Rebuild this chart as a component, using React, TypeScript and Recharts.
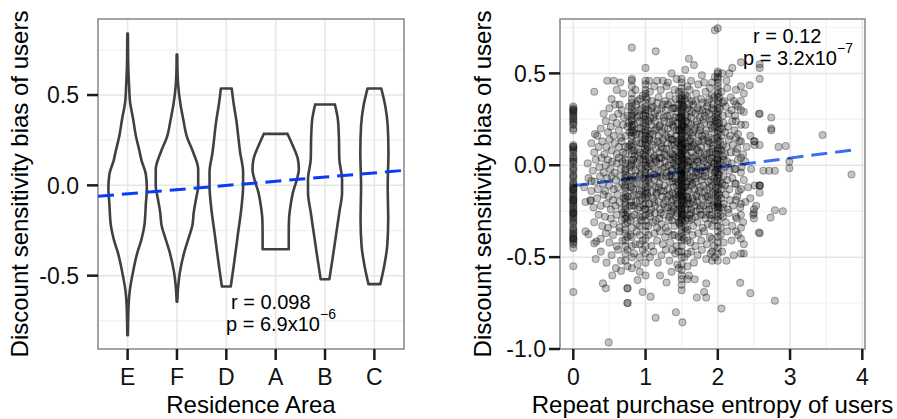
import React from 'react';
import {
  ComposedChart, Line, Scatter, XAxis, YAxis, CartesianGrid, ReferenceArea,
} from 'recharts';

const FONT = '"Liberation Sans", Arial, Helvetica, sans-serif';

// ---------- Left panel: violins ----------
const areas = ['E', 'F', 'D', 'A', 'B', 'C'];
// [value, half-width in category units], top to bottom
const violinE = [[0.84,0.006],[0.70,0.01],[0.55,0.03],[0.46,0.05],[0.37,0.11],[0.27,0.17],[0.19,0.24],[0.14,0.28],[0.06,0.37],[-0.02,0.39],[-0.10,0.37],[-0.22,0.34],[-0.30,0.28],[-0.37,0.2],[-0.50,0.095],[-0.58,0.045],[-0.66,0.02],[-0.83,0.006]];
const violinF = [[0.724,0.006],[0.62,0.012],[0.549,0.026],[0.45,0.07],[0.365,0.128],[0.273,0.197],[0.182,0.33],[0.088,0.43],[-0.004,0.43],[-0.077,0.385],[-0.149,0.34],[-0.225,0.31],[-0.28,0.25],[-0.37,0.148],[-0.48,0.06],[-0.555,0.026],[-0.644,0.006]];
const violinD = [[0.536,0.11],[0.45,0.15],[0.365,0.2],[0.182,0.28],[0.072,0.34],[-0.004,0.34],[-0.114,0.31],[-0.28,0.23],[-0.445,0.15],[-0.56,0.09]];
const violinA = [[0.285,0.24],[0.218,0.35],[0.144,0.45],[0.088,0.47],[0.033,0.43],[-0.039,0.35],[-0.114,0.3],[-0.188,0.27],[-0.26,0.265],[-0.354,0.265]];
const violinB = [[0.448,0.2],[0.365,0.26],[0.273,0.28],[0.144,0.29],[0.033,0.345],[-0.039,0.345],[-0.149,0.29],[-0.28,0.22],[-0.41,0.15],[-0.52,0.088]];
const violinC = [[0.536,0.14],[0.44,0.22],[0.33,0.27],[0.182,0.285],[-0.004,0.27],[-0.188,0.28],[-0.335,0.26],[-0.445,0.2],[-0.547,0.12]];
const violins = [violinE, violinF, violinD, violinA, violinB, violinC];
const leftFit = [{ x: -0.6, y: -0.061 }, { x: 5.6, y: 0.083 }];
const leftYTicks = [-0.5, 0, 0.5];
const leftYMinor = [-0.75, -0.25, 0.25, 0.75];
const leftXTicks = [0, 1, 2, 3, 4, 5];
const leftXDomain = [-0.6, 5.6];
const leftYDomain = [-0.906, 0.921];

// ---------- Right panel: scatter ----------
const zeroCol = [0.32,0.31,0.3,0.3,0.29,0.28,0.27,0.26,0.25,0.24,0.23,0.22,0.2,0.19,0.11,0.1,0.1,0.09,0.08,0.07,0.05,0.04,0.03,0.02,0.01,-0.01,-0.02,-0.03,-0.05,-0.06,-0.07,-0.09,-0.1,-0.11,-0.12,-0.13,-0.13,-0.14,-0.15,-0.16,-0.17,-0.18,-0.19,-0.19,-0.2,-0.21,-0.22,-0.23,-0.24,-0.25,-0.26,-0.26,-0.27,-0.28,-0.29,-0.3,-0.31,-0.32,-0.34,-0.35,-0.36,-0.37,-0.38,-0.39,-0.4,-0.4,-0.41,-0.42,-0.43,-0.45,-0.55,-0.69];
const stripeX = [0.72, 0.75, 0.81, 0.92, 1.0, 1.37, 1.46, 1.5, 1.58, 1.92, 2.0, 2.25, 2.32, 2.5, 2.58];
const stripeY = [
  [0.16,0.1,0.06,0.03,0.01,-0.02,-0.03,-0.05,-0.07,-0.09,-0.11,-0.12,-0.14,-0.16,-0.18,-0.2,-0.22,-0.24,-0.27,-0.29,-0.32,-0.35,-0.37,-0.41,-0.44,-0.48,-0.52],
  [0.27,0.21,-0.06,-0.17,-0.26,-0.31,-0.39,-0.46,-0.55,-0.67,-0.75,-0.75],
  [0.64,0.47,0.46,0.43,0.39,0.36,0.34,0.32,0.3,0.28,0.27,0.25,0.24,0.22,0.21,0.19,0.18,0.16,0.14,0.12,0.1,0.08,0.06,0.03,0.01,-0.03,-0.07,-0.12,-0.17,-0.22,-0.28,-0.34,-0.39,-0.44,-0.5,-0.56],
  [0.36,0.3,0.24,0.17,0.12,0.07,0.03,-0.01,-0.06,-0.1,-0.14,-0.19,-0.23,-0.28,-0.33,-0.38,-0.43,-0.5,-0.58],
  [0.53,0.46,0.44,0.41,0.39,0.37,0.34,0.32,0.3,0.28,0.27,0.25,0.23,0.21,0.19,0.18,0.16,0.14,0.12,0.11,0.09,0.07,0.05,0.03,0.02,0.0,-0.02,-0.04,-0.06,-0.08,-0.1,-0.12,-0.14,-0.16,-0.18,-0.21,-0.24,-0.27,-0.3,-0.33,-0.36,-0.4,-0.44,-0.48,-0.53,-0.6],
  [0.31,0.22,0.14,0.06,-0.02,-0.09,-0.15,-0.22,-0.3,-0.38,-0.46],
  [0.4,0.33,0.26,0.19,0.12,0.05,-0.03,-0.1,-0.17,-0.24,-0.31,-0.39,-0.47,-0.56],
  [0.47,0.45,0.42,0.4,0.38,0.36,0.35,0.34,0.33,0.31,0.3,0.29,0.28,0.27,0.26,0.25,0.24,0.23,0.22,0.21,0.2,0.19,0.18,0.17,0.16,0.15,0.14,0.13,0.12,0.11,0.1,0.09,0.08,0.07,0.06,0.05,0.04,0.03,0.02,0.01,0.0,-0.01,-0.02,-0.03,-0.04,-0.05,-0.06,-0.07,-0.08,-0.09,-0.1,-0.11,-0.12,-0.13,-0.14,-0.15,-0.16,-0.17,-0.18,-0.19,-0.2,-0.21,-0.22,-0.23,-0.24,-0.25,-0.26,-0.27,-0.28,-0.29,-0.31,-0.33,-0.35,-0.37,-0.39,-0.41,-0.44,-0.47,-0.5,-0.54,-0.57,-0.6,-0.62,-0.65,-0.68],
  [0.43,0.37,0.31,0.26,0.2,0.15,0.1,0.05,0.0,-0.05,-0.09,-0.14,-0.19,-0.24,-0.29,-0.35,-0.41,-0.48,-0.55,-0.62],
  [0.45,0.38,0.31,0.25,0.2,0.14,0.09,0.04,-0.01,-0.06,-0.11,-0.16,-0.22,-0.27,-0.33,-0.4,-0.47,-0.52],
  [0.51,0.5,0.48,0.47,0.45,0.43,0.41,0.39,0.37,0.35,0.33,0.31,0.29,0.27,0.25,0.23,0.21,0.19,0.17,0.15,0.13,0.11,0.09,0.08,0.06,0.04,0.03,0.01,0.0,-0.01,-0.02,-0.04,-0.05,-0.07,-0.09,-0.11,-0.13,-0.15,-0.17,-0.19,-0.21,-0.22,-0.23,-0.24,-0.26,-0.28,-0.3,-0.33,-0.36,-0.39,-0.42,-0.45,-0.48,-0.52],
  [0.41,0.33,0.24,0.15,0.07,-0.02,-0.1,-0.19,-0.28,-0.36],
  [0.56,0.43,0.35,0.3,0.22,0.13,0.04,-0.04,-0.13,-0.21,-0.27,-0.34,-0.4,-0.48],
  [0.13,-0.24,-0.26,-0.29],
  [0.55,0.53,0.47,0.28,0.11,-0.11,-0.11,-0.15,-0.37],
];
const cloud = [
  [0.53,0.36],[0.6,0.41],[0.64,0.33],[0.69,0.39],[0.86,0.41],[0.89,0.35],[0.96,0.38],[1.06,0.4],[1.09,0.35],[1.12,0.43],[1.18,0.37],[1.21,0.41],[1.27,0.35],[1.29,0.43],[1.33,0.38],[1.4,0.41],[1.42,0.36],[1.55,0.38],[1.61,0.41],[1.64,0.35],[1.7,0.39],[1.73,0.44],[1.77,0.36],[1.83,0.4],[1.86,0.34],[1.89,0.42],[1.95,0.37],[2.05,0.4],[2.09,0.35],[2.13,0.42],[2.18,0.37],[2.22,0.35],[2.36,0.39],
  [0.29,0.4],[0.47,0.46],[0.56,0.46],[0.65,0.45],[1.05,0.46],[1.14,0.62],[1.16,0.46],[1.24,0.46],[1.31,0.45],[1.43,0.47],[1.55,0.52],[1.6,0.58],[1.63,0.46],[1.67,0.545],[1.81,0.45],[1.96,0.48],[1.96,0.735],[2.0,0.745],[2.06,0.5],[2.12,0.46],[2.16,0.5],[2.2,0.53],[2.44,0.435],[1.78,0.49],[1.36,0.5],
  [0.42,0.28],[0.5,0.31],[0.55,0.26],[0.58,0.33],[0.62,0.28],[0.67,0.3],[0.7,0.26],[0.77,0.32],[0.85,0.29],[0.88,0.26],[0.95,0.31],[0.97,0.27],[1.04,0.3],[1.07,0.26],[1.1,0.32],[1.13,0.28],[1.16,0.34],[1.19,0.27],[1.22,0.31],[1.25,0.26],[1.28,0.3],[1.31,0.33],[1.34,0.27],[1.39,0.31],[1.41,0.26],[1.44,0.29],[1.53,0.32],[1.55,0.27],[1.61,0.3],[1.63,0.26],[1.66,0.33],[1.69,0.28],[1.72,0.31],[1.75,0.26],[1.79,0.3],[1.82,0.27],[1.85,0.32],[1.88,0.28],[1.94,0.3],[1.97,0.26],[2.03,0.31],[2.07,0.27],[2.11,0.32],[2.15,0.28],[2.19,0.3],[2.24,0.27],[2.28,0.32],[2.36,0.29],[2.57,0.28],[2.74,0.26],
  [0.3,0.17],[0.33,0.16],[0.38,0.2],[0.45,0.24],[0.48,0.18],[0.52,0.21],[0.56,0.16],[0.6,0.23],[0.63,0.19],[0.66,0.15],[0.69,0.22],[0.78,0.18],[0.84,0.22],[0.87,0.17],[0.9,0.2],[0.95,0.16],[0.97,0.23],[1.03,0.19],[1.05,0.15],[1.08,0.22],[1.1,0.17],[1.13,0.24],[1.15,0.2],[1.18,0.16],[1.2,0.22],[1.23,0.18],[1.26,0.24],[1.28,0.16],[1.31,0.2],[1.33,0.23],[1.35,0.17],[1.39,0.21],[1.42,0.16],[1.44,0.23],[1.47,0.19],[1.53,0.21],[1.55,0.16],[1.56,0.24],[1.61,0.18],[1.63,0.22],[1.65,0.16],[1.68,0.2],[1.71,0.24],[1.73,0.17],[1.76,0.21],[1.78,0.16],[1.81,0.23],[1.84,0.19],[1.87,0.15],[1.9,0.22],[1.95,0.18],[1.97,0.24],[2.03,0.2],[2.05,0.16],[2.08,0.23],[2.1,0.18],[2.14,0.21],[2.17,0.16],[2.2,0.24],[2.23,0.19],[2.28,0.17],[2.38,0.22],[2.45,0.16],[2.74,0.2],[2.74,0.19],[3.45,0.165],
  [0.25,0.12],[0.29,0.07],[0.35,0.1],[0.4,0.13],[0.43,0.06],[0.46,0.1],[0.5,0.14],[0.53,0.08],[0.57,0.12],[0.6,0.06],[0.63,0.1],[0.67,0.13],[0.69,0.07],[0.78,0.11],[0.84,0.08],[0.87,0.13],[0.9,0.09],[0.95,0.12],[0.97,0.06],[1.03,0.1],[1.05,0.14],[1.07,0.07],[1.1,0.11],[1.12,0.05],[1.14,0.09],[1.17,0.13],[1.19,0.07],[1.22,0.1],[1.24,0.14],[1.26,0.06],[1.29,0.09],[1.31,0.12],[1.34,0.07],[1.36,0.11],[1.39,0.05],[1.41,0.09],[1.43,0.13],[1.45,0.07],[1.48,0.1],[1.53,0.08],[1.55,0.12],[1.56,0.06],[1.6,0.1],[1.62,0.14],[1.64,0.07],[1.66,0.11],[1.69,0.05],[1.71,0.09],[1.73,0.13],[1.75,0.07],[1.77,0.1],[1.8,0.14],[1.82,0.06],[1.85,0.1],[1.87,0.13],[1.89,0.07],[1.94,0.11],[1.97,0.06],[2.03,0.13],[2.05,0.08],[2.07,0.11],[2.1,0.06],[2.12,0.1],[2.15,0.14],[2.18,0.07],[2.21,0.11],[2.27,0.09],[2.3,0.13],[2.35,0.06],[2.4,0.1],[2.51,0.13],[2.51,0.11],[2.84,0.1],[2.94,0.105],
  [0.2,0.01],[0.27,-0.03],[0.31,0.03],[0.36,-0.01],[0.39,0.04],[0.42,-0.04],[0.45,0.0],[0.48,0.03],[0.51,-0.02],[0.54,0.02],[0.57,-0.04],[0.6,0.01],[0.63,0.04],[0.66,-0.02],[0.68,0.02],[0.78,-0.01],[0.83,0.03],[0.86,-0.03],[0.88,0.01],[0.95,-0.02],[0.97,0.03],[1.03,-0.01],[1.05,0.03],[1.07,-0.04],[1.09,0.0],[1.11,0.04],[1.13,-0.02],[1.15,0.02],[1.18,-0.03],[1.2,0.01],[1.22,0.04],[1.24,-0.02],[1.27,0.02],[1.29,-0.04],[1.32,0.0],[1.34,0.03],[1.36,-0.03],[1.39,0.01],[1.41,0.04],[1.43,-0.01],[1.45,0.02],[1.48,-0.03],[1.53,0.01],[1.54,-0.04],[1.56,0.03],[1.6,-0.01],[1.62,0.02],[1.64,-0.03],[1.66,0.04],[1.68,0.0],[1.7,-0.04],[1.72,0.02],[1.74,-0.02],[1.77,0.03],[1.79,-0.01],[1.81,0.02],[1.83,-0.04],[1.86,0.0],[1.88,0.03],[1.9,-0.02],[1.95,0.01],[1.97,-0.03],[2.03,0.02],[2.05,-0.02],[2.08,0.03],[2.1,-0.01],[2.13,0.02],[2.16,-0.03],[2.19,0.01],[2.23,-0.02],[2.28,0.03],[2.33,-0.01],[2.38,0.02],[2.46,-0.02],[2.63,-0.03],[2.71,-0.03],[2.79,-0.03],[2.99,0.02],[2.99,-0.016],[3.85,-0.05],
  [0.15,-0.12],[0.21,-0.07],[0.25,-0.14],[0.3,-0.09],[0.34,-0.13],[0.37,-0.06],[0.41,-0.1],[0.44,-0.14],[0.47,-0.07],[0.5,-0.11],[0.53,-0.06],[0.56,-0.13],[0.59,-0.08],[0.62,-0.12],[0.65,-0.06],[0.68,-0.1],[0.78,-0.08],[0.83,-0.13],[0.86,-0.06],[0.88,-0.1],[0.95,-0.14],[0.97,-0.07],[1.03,-0.12],[1.05,-0.06],[1.07,-0.1],[1.09,-0.14],[1.12,-0.08],[1.14,-0.12],[1.16,-0.06],[1.19,-0.1],[1.21,-0.14],[1.23,-0.07],[1.26,-0.11],[1.28,-0.06],[1.31,-0.13],[1.33,-0.09],[1.35,-0.05],[1.39,-0.12],[1.41,-0.07],[1.43,-0.11],[1.45,-0.14],[1.48,-0.08],[1.53,-0.12],[1.54,-0.06],[1.56,-0.1],[1.6,-0.14],[1.62,-0.07],[1.64,-0.11],[1.66,-0.06],[1.68,-0.13],[1.7,-0.09],[1.73,-0.05],[1.75,-0.12],[1.77,-0.08],[1.8,-0.11],[1.82,-0.06],[1.85,-0.13],[1.87,-0.09],[1.89,-0.12],[1.95,-0.07],[1.97,-0.12],[2.03,-0.09],[2.05,-0.13],[2.08,-0.06],[2.1,-0.11],[2.13,-0.08],[2.16,-0.13],[2.2,-0.07],[2.24,-0.1],[2.29,-0.14],[2.36,-0.08],[2.42,-0.12],[2.51,-0.11],[2.58,-0.11],
  [0.17,-0.2],[0.24,-0.19],[0.28,-0.23],[0.33,-0.18],[0.38,-0.22],[0.42,-0.16],[0.46,-0.21],[0.49,-0.17],[0.52,-0.24],[0.55,-0.19],[0.58,-0.22],[0.61,-0.16],[0.64,-0.2],[0.67,-0.24],[0.7,-0.18],[0.78,-0.22],[0.84,-0.16],[0.87,-0.2],[0.89,-0.24],[0.95,-0.18],[0.97,-0.22],[1.03,-0.17],[1.05,-0.21],[1.08,-0.24],[1.1,-0.18],[1.13,-0.22],[1.15,-0.16],[1.18,-0.2],[1.2,-0.24],[1.23,-0.17],[1.25,-0.21],[1.28,-0.19],[1.31,-0.23],[1.33,-0.16],[1.36,-0.2],[1.39,-0.24],[1.42,-0.18],[1.44,-0.21],[1.47,-0.16],[1.53,-0.19],[1.55,-0.23],[1.57,-0.17],[1.61,-0.21],[1.63,-0.24],[1.65,-0.18],[1.68,-0.22],[1.7,-0.16],[1.72,-0.2],[1.75,-0.24],[1.78,-0.18],[1.8,-0.22],[1.83,-0.17],[1.86,-0.21],[1.88,-0.24],[1.95,-0.2],[1.97,-0.16],[2.03,-0.23],[2.05,-0.18],[2.08,-0.21],[2.11,-0.16],[2.14,-0.24],[2.17,-0.19],[2.21,-0.22],[2.27,-0.17],[2.31,-0.23],[2.38,-0.2],[2.45,-0.18],[2.53,-0.22],
  [0.29,-0.31],[0.35,-0.27],[0.4,-0.33],[0.44,-0.28],[0.48,-0.34],[0.52,-0.29],[0.56,-0.32],[0.6,-0.27],[0.64,-0.34],[0.67,-0.3],[0.69,-0.26],[0.79,-0.3],[0.85,-0.27],[0.88,-0.32],[0.96,-0.28],[1.04,-0.33],[1.06,-0.28],[1.1,-0.31],[1.13,-0.26],[1.16,-0.34],[1.19,-0.29],[1.22,-0.32],[1.25,-0.27],[1.28,-0.34],[1.32,-0.3],[1.35,-0.26],[1.4,-0.33],[1.43,-0.28],[1.47,-0.32],[1.53,-0.27],[1.55,-0.34],[1.6,-0.3],[1.63,-0.26],[1.66,-0.33],[1.69,-0.28],[1.72,-0.31],[1.76,-0.27],[1.79,-0.34],[1.83,-0.29],[1.86,-0.32],[1.89,-0.27],[1.96,-0.3],[2.04,-0.34],[2.07,-0.28],[2.11,-0.31],[2.15,-0.26],[2.2,-0.33],[2.26,-0.29],[2.35,-0.31],[2.49,-0.27],[2.79,-0.245],[2.9,-0.25],[2.73,-0.285],
  [0.17,-0.36],[0.21,-0.375],[0.29,-0.425],[0.32,-0.415],[0.38,-0.4],[0.45,-0.37],[0.5,-0.42],[0.55,-0.38],[0.6,-0.44],[0.64,-0.36],[0.68,-0.41],[0.79,-0.38],[0.86,-0.43],[0.88,-0.36],[0.96,-0.41],[1.04,-0.38],[1.08,-0.44],[1.12,-0.37],[1.16,-0.41],[1.2,-0.36],[1.24,-0.43],[1.27,-0.39],[1.31,-0.36],[1.34,-0.42],[1.4,-0.38],[1.43,-0.44],[1.53,-0.4],[1.56,-0.36],[1.62,-0.42],[1.65,-0.38],[1.69,-0.44],[1.73,-0.37],[1.77,-0.41],[1.81,-0.36],[1.85,-0.43],[1.89,-0.39],[1.95,-0.44],[2.04,-0.38],[2.08,-0.42],[2.13,-0.36],[2.19,-0.41],[2.28,-0.38],[2.36,-0.43],
  [0.31,-0.51],[0.38,-0.47],[0.46,-0.53],[0.53,-0.49],[0.59,-0.56],[0.62,-0.46],[0.66,-0.52],[0.84,-0.48],[0.89,-0.54],[0.96,-0.46],[1.06,-0.5],[1.11,-0.47],[1.17,-0.53],[1.22,-0.49],[1.28,-0.46],[1.33,-0.52],[1.41,-0.48],[1.44,-0.54],[1.54,-0.5],[1.63,-0.47],[1.67,-0.53],[1.72,-0.49],[1.78,-0.46],[1.84,-0.51],[1.9,-0.48],[1.96,-0.5],[2.06,-0.47],[2.12,-0.52],[2.22,-0.49],[2.36,-0.48],
  [0.54,-0.6],[0.66,-0.575],[0.41,-0.643],[0.45,-0.67],[0.75,-0.67],[0.89,-0.625],[0.96,-0.69],[1.2,-0.6],[1.29,-0.638],[1.07,-0.715],[1.14,-0.83],[1.42,-0.8],[1.51,-0.855],[1.71,-0.72],[1.84,-0.72],[1.81,-0.69],[1.84,-0.643],[2.05,-0.78],[2.31,-0.64],[2.45,-0.696],[2.79,-0.737],[0.49,-0.964],[2.57,-0.366],[1.36,-0.58],[1.6,-0.6],[1.68,-0.62],[0.24,-0.194],[0.25,-0.085],
];
// extra points in the densest core of the cloud
const core = [
  [0.87,0.33],[0.91,0.27],[0.93,0.2],[0.99,0.14],[0.9,0.05],[0.93,-0.05],[0.91,-0.16],[0.99,-0.24],[0.94,-0.3],
  [1.02,0.36],[1.04,0.24],[1.06,0.17],[1.02,0.08],[1.06,0.01],[1.04,-0.08],[1.02,-0.15],[1.06,-0.26],[1.08,0.31],
  [1.11,0.26],[1.13,0.19],[1.11,0.13],[1.14,0.03],[1.12,-0.05],[1.15,-0.15],[1.12,-0.2],[1.14,-0.3],[1.16,0.3],
  [1.19,0.21],[1.21,0.12],[1.19,0.04],[1.21,-0.06],[1.18,-0.12],[1.21,-0.26],[1.24,0.33],[1.26,0.2],[1.24,0.09],
  [1.27,-0.01],[1.25,-0.14],[1.27,-0.23],[1.3,0.27],[1.32,0.15],[1.29,0.05],[1.33,-0.06],[1.3,-0.17],[1.33,-0.28],
  [1.35,0.34],[1.38,0.24],[1.36,0.14],[1.38,0.03],[1.37,-0.07],[1.38,-0.19],[1.36,-0.25],[1.41,0.31],[1.43,0.19],
  [1.4,0.11],[1.42,0.0],[1.44,-0.09],[1.41,-0.16],[1.44,-0.26],[1.47,0.36],[1.48,0.26],[1.47,0.14],[1.49,0.06],
  [1.48,-0.05],[1.49,-0.14],[1.47,-0.22],[1.49,-0.3],[1.51,0.32],[1.52,0.22],[1.51,0.12],[1.52,0.03],[1.51,-0.07],
  [1.52,-0.17],[1.51,-0.27],[1.54,0.36],[1.56,0.19],[1.55,0.09],[1.57,-0.02],[1.55,-0.12],[1.57,-0.21],[1.55,-0.3],
  [1.6,0.33],[1.59,0.23],[1.61,0.13],[1.59,0.02],[1.61,-0.09],[1.59,-0.18],[1.61,-0.27],[1.64,0.29],[1.66,0.18],
  [1.64,0.1],[1.66,0.0],[1.65,-0.1],[1.66,-0.2],[1.64,-0.29],[1.69,0.35],[1.7,0.22],[1.68,0.12],[1.71,0.03],
  [1.69,-0.07],[1.71,-0.17],[1.7,-0.25],[1.74,0.3],[1.75,0.19],[1.73,0.08],[1.76,-0.03],[1.74,-0.14],[1.76,-0.22],
  [1.79,0.34],[1.8,0.25],[1.78,0.13],[1.8,0.04],[1.79,-0.06],[1.81,-0.15],[1.79,-0.27],[1.84,0.29],[1.83,0.17],
  [1.85,0.06],[1.84,-0.02],[1.86,-0.17],[1.84,-0.25],[1.88,0.36],[1.9,0.24],[1.89,0.12],[1.91,0.02],[1.9,-0.08],
  [1.88,-0.19],[1.9,-0.29],[1.94,0.33],[1.95,0.21],[1.93,0.07],[1.96,-0.04],[1.94,-0.15],[1.96,-0.23],[1.98,0.28],
  [1.98,0.15],[1.99,0.03],[1.98,-0.09],[1.99,-0.2],[2.02,0.37],[2.02,0.23],[2.03,0.09],[2.02,-0.05],[2.02,-0.16],
  [2.04,-0.27],[2.07,0.34],[2.06,0.2],[2.07,0.05],[2.06,-0.1],[2.07,-0.23],[0.8,0.0],[0.79,-0.12],[0.76,0.1],[0.8,-0.2],
  [0.74,-0.28],[0.77,0.23],[0.83,0.18],[0.85,0.05],[0.82,-0.08],[0.84,-0.22],
];
const rightFit = [{ x: 0, y: -0.112 }, { x: 3.87, y: 0.083 }];
const rightYTicks = [-1, -0.5, 0, 0.5];
const rightYMinor = [-0.75, -0.25, 0.25, 0.75];
const rightXTicks = [0, 1, 2, 3, 4];
const rightXMinor = [0.5, 1.5, 2.5, 3.5];
const rightXDomain = [-0.184, 4.037];
const rightYDomain = [-1.0, 0.796];

// ---------- derived series ----------
const violinSeries = violins.map((prof, i) => {
  const top = prof[0];
  const bot = prof[prof.length - 1];
  const gap = { x: i, y: null };
  return [
    ...prof.map(([y, w]) => ({ x: i + w, y })),
    gap,
    ...prof.map(([y, w]) => ({ x: i - w, y })),
    gap,
    { x: i - top[1], y: top[0] }, { x: i + top[1], y: top[0] },
    gap,
    { x: i - bot[1], y: bot[0] }, { x: i + bot[1], y: bot[0] },
  ];
});

const scatterData = [
  ...zeroCol.map((y) => ({ x: 0, y })),
  ...stripeX.flatMap((x, k) => stripeY[k].map((y) => ({ x, y }))),
  ...cloud.map(([x, y]) => ({ x, y })),
  ...core.map(([x, y]) => ({ x, y })),
];

const tickStyle = { fill: '#111', fontSize: 23, fontFamily: FONT };
const tickLine = { stroke: '#1a1a1a', strokeWidth: 2.5 };
const fmt1 = (v: number) => v.toFixed(1);

const Dot = (props: any) => (
  <circle cx={props.cx} cy={props.cy} r={3.5} fill="rgba(0,0,0,0.23)" stroke="rgba(0,0,0,0.32)" strokeWidth={1.1} />
);

export default function App() {
  return (
    <div style={{ position: 'absolute', left: 0, top: 0, width: 897, height: 419, background: '#fff', fontFamily: FONT }}>
      <div style={{ position: 'absolute', left: 0, top: 0 }}>
        <ComposedChart width={420} height={419} margin={{ top: 19, right: 16, bottom: 0, left: 0 }}>
          <CartesianGrid horizontalValues={leftYMinor} vertical={false} stroke="#f4f4f4" strokeWidth={1.5} />
          <CartesianGrid stroke="#e6e6e6" strokeWidth={1.5} />
          <XAxis dataKey="x" type="number" domain={leftXDomain} ticks={leftXTicks} interval={0}
            allowDataOverflow tickFormatter={(i: number) => areas[i]} tickSize={11} tickMargin={9}
            axisLine={false} tickLine={tickLine} tick={tickStyle} height={70} />
          <YAxis type="number" domain={leftYDomain} ticks={leftYTicks} interval={0} allowDataOverflow
            tickFormatter={fmt1} tickSize={11} tickMargin={8} axisLine={false} tickLine={tickLine}
            tick={tickStyle} width={98} />
          {violinSeries.map((d, i) => (
            <Line key={i} data={d} dataKey="y" type="monotoneY" stroke="#404040" strokeWidth={2.6}
              strokeLinecap="round" strokeLinejoin="round" dot={false} activeDot={false}
              connectNulls={false} isAnimationActive={false} />
          ))}
          <Line data={leftFit} dataKey="y" type="linear" stroke="#0b3bf5" strokeWidth={3}
            strokeDasharray="16 8" dot={false} activeDot={false} isAnimationActive={false} />
          <ReferenceArea x1={leftXDomain[0]} x2={leftXDomain[1]} y1={leftYDomain[0]} y2={leftYDomain[1]}
            fill="none" fillOpacity={0} stroke="#8c8c8c" strokeWidth={1.5} />
        </ComposedChart>
      </div>
      <div style={{ position: 'absolute', left: 460, top: 0 }}>
        <ComposedChart width={437} height={419} margin={{ top: 19, right: 32, bottom: 0, left: 0 }}>
          <CartesianGrid horizontalValues={rightYMinor} verticalValues={rightXMinor} stroke="#f4f4f4" strokeWidth={1.5} />
          <CartesianGrid stroke="#e6e6e6" strokeWidth={1.5} />
          <XAxis dataKey="x" type="number" domain={rightXDomain} ticks={rightXTicks} interval={0}
            allowDataOverflow tickSize={11} tickMargin={9} axisLine={false} tickLine={tickLine}
            tick={tickStyle} height={70} />
          <YAxis dataKey="y" type="number" domain={rightYDomain} ticks={rightYTicks} interval={0} allowDataOverflow
            tickFormatter={fmt1} tickSize={11} tickMargin={3} axisLine={false} tickLine={tickLine}
            tick={tickStyle} width={100} />
          <Scatter data={scatterData} dataKey="y" shape={Dot} isAnimationActive={false} />
          <Line data={rightFit} dataKey="y" type="linear" stroke="#3b6ff2" strokeWidth={3}
            strokeDasharray="16 8" dot={false} activeDot={false} isAnimationActive={false} />
          <ReferenceArea x1={rightXDomain[0]} x2={rightXDomain[1]} y1={rightYDomain[0]} y2={rightYDomain[1]}
            fill="none" fillOpacity={0} stroke="#8c8c8c" strokeWidth={1.5} />
        </ComposedChart>
      </div>
      <svg width={897} height={419} style={{ position: 'absolute', left: 0, top: 0, pointerEvents: 'none' }}
        fontFamily={FONT} fill="#000">
        <text transform="translate(28,184) rotate(-90)" textAnchor="middle" fontSize={24}>Discount sensitivity bias of users</text>
        <text transform="translate(491,184) rotate(-90)" textAnchor="middle" fontSize={24}>Discount sensitivity bias of users</text>
        <text x={251} y={413} textAnchor="middle" fontSize={24}>Residence Area</text>
        <text x={712.5} y={413} textAnchor="middle" fontSize={24}>Repeat purchase entropy of users</text>
        <text x={231} y={309} fontSize={20}>r = 0.098</text>
        <text x={226} y={331} fontSize={20}>p = 6.9x10<tspan fontSize={14} dy={-12}>−6</tspan></text>
        <text x={753} y={43} fontSize={20}>r = 0.12</text>
        <text x={743} y={65} fontSize={20}>p = 3.2x10<tspan fontSize={14} dy={-12}>−7</tspan></text>
      </svg>
    </div>
  );
}
